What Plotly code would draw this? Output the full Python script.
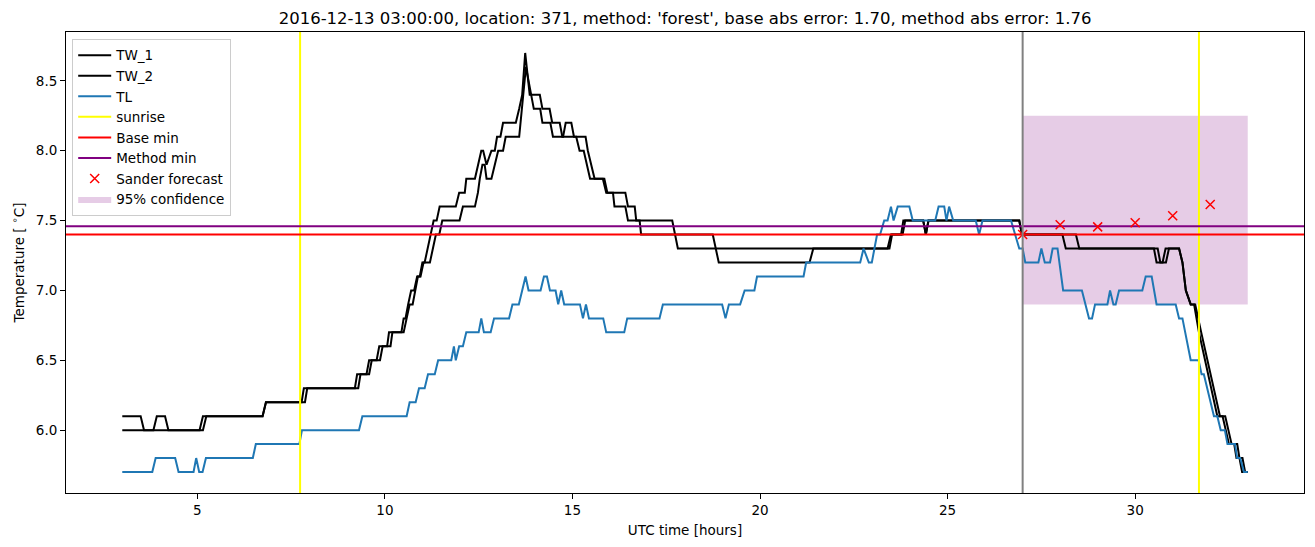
import plotly.graph_objects as go

# ---------------- data (hours UTC, temperature degC) ----------------
tw1_t = [3.0, 3.49, 3.58, 3.83, 3.92, 4.14, 4.23, 5.06, 5.15, 6.74, 6.83, 7.78, 7.84, 9.20, 9.26, 9.51, 9.58,
         9.78, 9.85, 10.06, 10.11, 10.44, 10.50, 10.55, 10.62, 10.70, 10.78, 10.86, 10.93, 11.00, 11.06, 11.14,
         11.22, 11.30, 11.38, 11.46, 11.89, 11.98, 12.13, 12.17, 12.40, 12.48, 12.57, 12.62, 12.71, 12.84, 12.93,
         12.99, 13.08, 13.15, 13.49, 13.58, 13.66, 13.74, 13.86, 14.13, 14.20, 14.39, 14.46, 14.66, 14.73, 15.10,
         15.19, 15.30, 15.38, 15.47, 15.81, 15.90, 16.08, 16.12, 16.41, 16.48, 16.79, 16.83, 18.74, 18.90, 21.32,
         21.42, 23.40, 23.49, 23.76, 23.82, 24.35, 24.42, 24.49, 26.91, 26.98, 28.06, 28.15, 30.50, 30.57, 30.73,
         30.81, 31.17, 31.26, 31.35, 31.48, 31.57, 31.70, 32.19, 32.33, 32.41, 32.50, 32.64, 32.70, 32.78, 32.85,
         33.0]
tw1_v = [6.1, 6.1, 6.0, 6.0, 6.1, 6.1, 6.0, 6.0, 6.1, 6.1, 6.2, 6.2, 6.3, 6.3, 6.4, 6.4, 6.5,
         6.5, 6.6, 6.6, 6.7, 6.7, 6.8, 6.8, 6.9, 7.0, 7.0, 7.1, 7.1, 7.2, 7.2, 7.3,
         7.4, 7.5, 7.5, 7.6, 7.6, 7.7, 7.7, 7.8, 7.8, 7.9, 8.0, 8.0, 7.9, 8.0, 8.0,
         8.1, 8.1, 8.2, 8.2, 8.3, 8.4, 8.7, 8.4, 8.4, 8.3, 8.3, 8.2, 8.2, 8.1, 8.1,
         8.0, 8.0, 7.9, 7.8, 7.8, 7.7, 7.7, 7.6, 7.6, 7.5, 7.5, 7.4, 7.4, 7.2, 7.2,
         7.3, 7.3, 7.4, 7.4, 7.5, 7.5, 7.4, 7.5, 7.5, 7.4, 7.4, 7.3, 7.3, 7.2, 7.2,
         7.3, 7.3, 7.2, 7.0, 6.9, 6.9, 6.7, 6.1, 6.1, 6.0, 5.9, 5.9, 5.8, 5.8, 5.7,
         5.7]

tw2_t = [3.0, 5.15, 5.24, 6.74, 6.83, 7.87, 7.93, 9.29, 9.35, 9.58, 9.65, 9.87, 9.94, 10.15, 10.20, 10.50,
         10.58, 10.66, 10.74, 10.80, 10.88, 10.95, 11.03, 11.20, 11.28, 11.36, 11.45, 11.53, 11.99, 12.08, 12.40,
         12.48, 12.53, 12.60, 12.66, 12.71, 12.84, 12.93, 13.02, 13.15, 13.22, 13.58, 13.66, 13.76, 13.97, 14.14,
         14.20, 14.41, 14.48, 14.75, 14.82, 14.97, 15.04, 15.35, 15.41, 15.50, 15.59, 15.85, 15.93, 16.41, 16.48,
         16.66, 16.70, 17.66, 17.81, 23.45, 23.52, 23.80, 23.87, 24.35, 24.42, 24.49, 26.91, 26.98, 28.42, 28.51,
         30.60, 30.67, 30.82, 30.90, 31.17, 31.26, 31.35, 31.48, 31.60, 31.76, 32.26, 32.40, 32.48, 32.57, 32.72,
         32.78, 32.86, 32.93, 33.0]
tw2_v = [6.0, 6.0, 6.1, 6.1, 6.2, 6.2, 6.3, 6.3, 6.4, 6.4, 6.5, 6.5, 6.6, 6.6, 6.7, 6.7,
         6.8, 6.9, 6.9, 7.0, 7.1, 7.1, 7.2, 7.2, 7.3, 7.4, 7.4, 7.5, 7.5, 7.6, 7.6,
         7.7, 7.8, 7.9, 7.9, 7.8, 7.8, 7.9, 8.0, 8.0, 8.1, 8.1, 8.3, 8.6, 8.3, 8.3,
         8.2, 8.2, 8.1, 8.1, 8.2, 8.2, 8.1, 8.1, 8.0, 7.9, 7.8, 7.8, 7.7, 7.7, 7.6,
         7.6, 7.5, 7.5, 7.3, 7.3, 7.4, 7.4, 7.5, 7.5, 7.4, 7.5, 7.5, 7.4, 7.4, 7.3,
         7.3, 7.2, 7.2, 7.3, 7.3, 7.2, 7.0, 6.9, 6.9, 6.7, 6.1, 6.1, 6.0, 5.9, 5.9,
         5.8, 5.8, 5.7, 5.7]

tl_t = [3.0, 3.80, 3.89, 4.41, 4.50, 4.90, 4.97, 5.05, 5.14, 5.23, 6.48, 6.56, 7.72, 7.79, 9.31, 9.40, 10.58,
        10.66, 10.82, 10.91, 11.06, 11.15, 11.33, 11.42, 11.77, 11.84, 11.89, 11.98, 12.08, 12.17, 12.50, 12.57,
        12.64, 12.82, 12.91, 13.31, 13.40, 13.57, 13.66, 13.75, 13.83, 14.15, 14.24, 14.32, 14.40, 14.55, 14.62,
        14.70, 14.78, 15.20, 15.28, 15.36, 15.44, 15.82, 15.90, 16.38, 16.46, 17.32, 17.41, 18.99, 19.08, 19.17,
        19.47, 19.59, 19.85, 19.92, 21.16, 21.23, 22.67, 22.76, 22.90, 22.98, 23.05, 23.12, 23.20, 23.31, 23.40,
        23.49, 23.56, 23.67, 23.98, 24.07, 24.67, 24.76, 24.91, 24.97, 25.04, 25.15, 25.75, 25.84, 25.93, 26.69,
        26.80, 26.91, 27.00, 27.07, 27.42, 27.50, 27.59, 27.73, 27.80, 27.93, 28.08, 28.58, 28.77, 28.85, 28.93,
        29.26, 29.33, 29.42, 29.48, 29.57, 30.19, 30.28, 30.44, 30.57, 31.08, 31.17, 31.26, 31.48, 31.69, 31.77,
        31.83, 32.10, 32.19, 32.28, 32.39, 32.46, 32.66, 32.72, 32.80, 32.90, 33.0]
tl_v = [5.7, 5.7, 5.8, 5.8, 5.7, 5.7, 5.8, 5.7, 5.7, 5.8, 5.8, 5.9, 5.9, 6.0, 6.0, 6.1, 6.1,
        6.2, 6.2, 6.3, 6.3, 6.4, 6.4, 6.5, 6.5, 6.6, 6.5, 6.6, 6.6, 6.7, 6.7, 6.8,
        6.7, 6.7, 6.8, 6.8, 6.9, 6.9, 7.0, 7.1, 7.0, 7.0, 7.1, 7.1, 7.0, 7.0, 6.9,
        7.0, 6.9, 6.9, 6.8, 6.9, 6.8, 6.8, 6.7, 6.7, 6.8, 6.8, 6.9, 6.9, 6.8, 6.9,
        6.9, 7.0, 7.0, 7.1, 7.1, 7.2, 7.2, 7.3, 7.2, 7.2, 7.3, 7.4, 7.4, 7.5, 7.5,
        7.6, 7.5, 7.6, 7.6, 7.5, 7.5, 7.6, 7.6, 7.5, 7.6, 7.5, 7.5, 7.4, 7.5, 7.5,
        7.4, 7.3, 7.3, 7.2, 7.2, 7.3, 7.2, 7.2, 7.3, 7.3, 7.0, 7.0, 6.8, 6.8, 6.9,
        6.9, 7.0, 6.9, 6.9, 7.0, 7.0, 7.1, 7.1, 6.9, 6.9, 6.8, 6.8, 6.5, 6.5, 6.4,
        6.4, 6.1, 6.1, 6.0, 6.0, 5.9, 5.9, 5.8, 5.8, 5.7, 5.7]

sunrise_hours = [7.74, 31.70]
forecast_start = 27.0
base_min = 7.40
method_min = 7.46
forecast_hours = [27, 28, 29, 30, 31, 32]
forecast_vals = [7.40, 7.47, 7.455, 7.485, 7.535, 7.615]
conf_hours = [27.0, 33.0]
conf_low = 6.90
conf_high = 8.25

title_text = ("2016-12-13 03:00:00, location: 371, method: 'forest', "
              "base abs error: 1.70, method abs error: 1.76")
x_ticks = [5, 10, 15, 20, 25, 30]
y_ticks = [6.0, 6.5, 7.0, 7.5, 8.0, 8.5]
x_range = [1.5, 34.5]
y_range = [5.55, 8.85]

# ---------------- figure ----------------
FONT = "DejaVu Sans"
fig = go.Figure()

# confidence band (drawn first, listed last)
fig.add_trace(go.Scatter(
    x=[conf_hours[0], conf_hours[1], conf_hours[1], conf_hours[0], conf_hours[0]],
    y=[conf_low, conf_low, conf_high, conf_high, conf_low],
    fill="toself", fillcolor="rgba(128,0,128,0.2)", line=dict(width=0),
    mode="lines", name="95% confidence", legendrank=8, hoverinfo="skip"))

lw = 2
fig.add_trace(go.Scatter(x=tw1_t, y=tw1_v, mode="lines", name="TW_1",
                         line=dict(color="black", width=lw), legendrank=1))
fig.add_trace(go.Scatter(x=tw2_t, y=tw2_v, mode="lines", name="TW_2",
                         line=dict(color="black", width=lw), legendrank=2))
fig.add_trace(go.Scatter(x=tl_t, y=tl_v, mode="lines", name="TL",
                         line=dict(color="#1f77b4", width=lw), legendrank=3))

for i, s in enumerate(sunrise_hours):
    fig.add_trace(go.Scatter(x=[s, s], y=y_range, mode="lines", name="sunrise",
                             line=dict(color="yellow", width=lw), showlegend=(i == 0),
                             legendgroup="sunrise", legendrank=4))

fig.add_trace(go.Scatter(x=x_range, y=[base_min, base_min], mode="lines", name="Base min",
                         line=dict(color="red", width=lw), legendrank=5))
fig.add_trace(go.Scatter(x=x_range, y=[method_min, method_min], mode="lines", name="Method min",
                         line=dict(color="purple", width=lw), legendrank=6))
fig.add_trace(go.Scatter(x=forecast_hours, y=forecast_vals, mode="markers", name="Sander forecast",
                         marker=dict(symbol="x-thin", size=9, color="red",
                                     line=dict(color="red", width=1.5)), legendrank=7))

fig.add_shape(type="line", xref="x", yref="paper", x0=forecast_start, x1=forecast_start,
              y0=0, y1=1, line=dict(color="gray", width=2), layer="above")

fig.update_layout(
    width=1315, height=547,
    margin=dict(l=66, r=11, t=32, b=54),
    plot_bgcolor="white", paper_bgcolor="white",
    font=dict(family=FONT, size=13.5, color="black"),
    title=dict(text=title_text, x=0.521, xanchor="center", y=0.967, yanchor="middle",
               font=dict(family=FONT, size=16.5, color="black")),
    legend=dict(x=0.005, y=0.985, xanchor="left", yanchor="top",
                bordercolor="#cccccc", borderwidth=1, bgcolor="rgba(255,255,255,0.8)",
                font=dict(family=FONT, size=13.5), itemwidth=33, tracegroupgap=0),
    showlegend=True,
)
fig.update_xaxes(range=x_range, tickvals=x_ticks, ticks="outside", ticklen=5, tickwidth=1,
                 tickcolor="black", showline=True, linecolor="black", linewidth=1, mirror=True,
                 showgrid=False, zeroline=False,
                 title=dict(text="UTC time [hours]", standoff=8, font=dict(size=13.5)))
fig.update_yaxes(range=y_range, tickvals=y_ticks, ticktext=[f"{v:.1f}" for v in y_ticks],
                 ticks="outside", ticklen=5, tickwidth=1, tickcolor="black", showline=True,
                 linecolor="black", linewidth=1, mirror=True, showgrid=False, zeroline=False,
                 title=dict(text="Temperature [ <sup>∘</sup>C]", standoff=8, font=dict(size=13.5)))

fig.write_html("out.html")
